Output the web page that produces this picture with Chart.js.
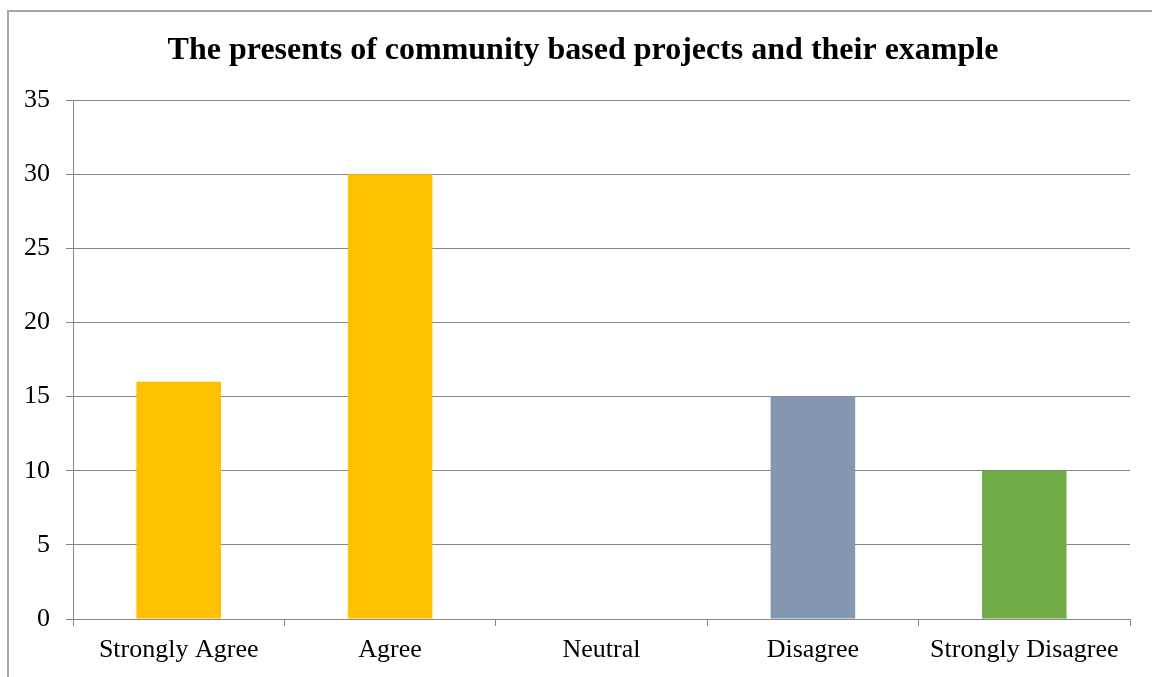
<!DOCTYPE html>
<html>
<head>
<meta charset="utf-8">
<script src="https://cdn.jsdelivr.net/npm/chart.js@4"></script>
<style>
  html, body { margin: 0; padding: 0; background: #fff; }
  #wrap { width: 1152px; height: 677px; position: relative; }
</style>
</head>
<body>
<div id="wrap"><canvas id="chart"></canvas></div>
<script>
// Survey responses
const categories = ['Strongly Agree', 'Agree', 'Neutral', 'Disagree', 'Strongly Disagree'];
const responses = [16, 30, 0, 15, 10];
const barColors = ['#FFC000', '#FFC000', '#FFC000', '#8497B0', '#70AD47'];
const chartTitle = 'The presents of community based projects and their example';

const serif = '"Liberation Serif", "Times New Roman", serif';
const gridColor = '#868686';

// outer frame + title drawn by hand (Excel-style)
const framePlugin = {
  id: 'frame',
  beforeDraw(chart) {
    const ctx = chart.ctx;
    ctx.save();
    ctx.strokeStyle = '#a6a6a6';
    ctx.lineWidth = 2;
    ctx.strokeRect(8, 11, 1200, 700);
    ctx.fillStyle = '#000';
    ctx.font = 'bold 32px ' + serif;
    ctx.textAlign = 'center';
    ctx.textBaseline = 'middle';
    ctx.fillText(chartTitle, 583, 51);
    ctx.restore();
  }
};

new Chart(document.getElementById('chart'), {
  type: 'bar',
  data: {
    labels: categories,
    datasets: [{ data: responses, backgroundColor: barColors, barPercentage: 1, categoryPercentage: 0.4 }]
  },
  options: {
    responsive: true,
    maintainAspectRatio: false,
    animation: false,
    layout: { padding: { top: 100, right: 22, left: 0, bottom: 0 } },
    plugins: { legend: { display: false }, tooltip: { enabled: false } },
    scales: {
      x: {
        afterFit(s) { s.height = 58; },
        grid: { offset: true, drawOnChartArea: false, drawTicks: true, tickLength: 7, color: gridColor },
        border: { color: gridColor },
        ticks: { color: '#000', font: { family: serif, size: 26 }, padding: 9 }
      },
      y: {
        min: 0, max: 35,
        afterFit(s) { s.width = 73; },
        grid: { color: gridColor, tickLength: 7 },
        border: { color: gridColor },
        ticks: { stepSize: 5, color: '#000', font: { family: serif, size: 26 }, padding: 16 }
      }
    }
  },
  plugins: [framePlugin]
});
</script>
</body>
</html>
